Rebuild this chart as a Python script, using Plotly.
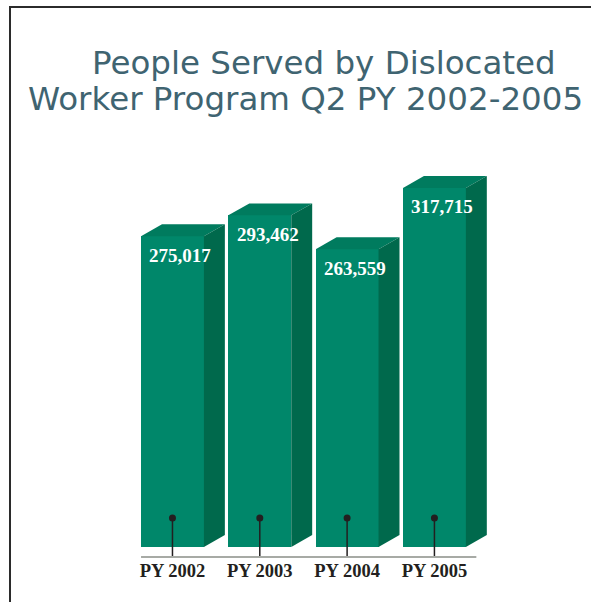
import plotly.graph_objects as go

# Chart data
categories = ["PY 2002", "PY 2003", "PY 2004", "PY 2005"]
people_served = [275017, 293462, 263559, 317715]
value_labels = ["275,017", "293,462", "263,559", "317,715"]

title_line1 = "People Served by Dislocated"
title_line2 = "Worker Program Q2 PY 2002-2005"

# Figure geometry (pixels)
FIG_W, FIG_H = 591, 602
PLOT_LEFT, PLOT_RIGHT = 100, 520
PLOT_TOP, PLOT_BOTTOM = 150, 557

# Axis ranges and pseudo-3D bar geometry (data units)
X_RANGE = [-0.83, 3.98]
Y_RANGE = [-8850, 351300]
BAR_W = 0.72        # front face width
DEPTH_X = 0.24      # horizontal depth offset
DEPTH_Y = 10600     # vertical depth offset
DOT_Y = 25700       # height of the category marker dot

FRONT = "#00876a"
TOP = "#007b5e"
SIDE = "#00694c"
INK = "#231f20"
TITLE_COLOR = "#3f6471"


def px_x(p):
    return p / FIG_W


def px_y(p):
    return 1 - p / FIG_H


xs = list(range(len(categories)))
fig = go.Figure()

# Front faces
fig.add_trace(go.Bar(
    x=xs, y=people_served, width=BAR_W,
    marker=dict(color=FRONT, line=dict(width=0)),
    hoverinfo="skip", showlegend=False,
))

# Top and side faces built from each bar's value
for x, v in zip(xs, people_served):
    l, r = x - BAR_W / 2, x + BAR_W / 2
    fig.add_trace(go.Scatter(
        x=[l, r, r + DEPTH_X, l + DEPTH_X, l],
        y=[v, v, v + DEPTH_Y, v + DEPTH_Y, v],
        fill="toself", fillcolor=TOP, mode="lines",
        line=dict(width=0, color=TOP), hoverinfo="skip", showlegend=False,
    ))
    fig.add_trace(go.Scatter(
        x=[r, r + DEPTH_X, r + DEPTH_X, r, r],
        y=[0, DEPTH_Y, v + DEPTH_Y, v, 0],
        fill="toself", fillcolor=SIDE, mode="lines",
        line=dict(width=0, color=SIDE), hoverinfo="skip", showlegend=False,
    ))

# Category dots with stems down to the baseline
fig.add_trace(go.Scatter(
    x=xs, y=[DOT_Y] * len(xs), mode="markers",
    marker=dict(color=INK, size=7),
    error_y=dict(type="data", symmetric=False, array=[0] * len(xs),
                 arrayminus=[DOT_Y - Y_RANGE[0]] * len(xs),
                 color=INK, thickness=1.5, width=0),
    hoverinfo="skip", showlegend=False, cliponaxis=False,
))

annotations = []
for x, v, t in zip(xs, people_served, value_labels):
    annotations.append(dict(
        x=x, y=v, xref="x", yref="y", text=f"<b>{t}</b>", showarrow=False,
        xshift=8, yshift=-19, xanchor="center", yanchor="middle",
        font=dict(family="Liberation Serif", size=19, color="white"),
    ))

annotations.append(dict(
    x=px_x(324), y=px_y(63), xref="paper", yref="paper", text=title_line1,
    showarrow=False, xanchor="center", yanchor="middle",
    font=dict(family="DejaVu Sans", size=32.5, color=TITLE_COLOR),
))
annotations.append(dict(
    x=px_x(305), y=px_y(99), xref="paper", yref="paper", text=title_line2,
    showarrow=False, xanchor="center", yanchor="middle",
    font=dict(family="DejaVu Sans", size=32.5, color=TITLE_COLOR),
))

shapes = [
    # baseline under the bars
    dict(type="line", xref="x", yref="paper",
         x0=-BAR_W / 2, x1=xs[-1] + BAR_W / 2 + DEPTH_X / 2,
         y0=px_y(PLOT_BOTTOM), y1=px_y(PLOT_BOTTOM),
         line=dict(color="#a7aaa5", width=2)),
    # page frame
    dict(type="rect", xref="paper", yref="paper",
         x0=px_x(10), x1=px_x(FIG_W + 20), y0=px_y(FIG_H + 20), y1=px_y(7),
         line=dict(color="#2b2b2b", width=2), fillcolor="rgba(0,0,0,0)"),
]

fig.update_layout(
    template="none",
    width=FIG_W, height=FIG_H,
    margin=dict(l=0, r=0, t=0, b=0),
    paper_bgcolor="white", plot_bgcolor="white",
    showlegend=False, bargap=0,
    xaxis=dict(
        domain=[px_x(PLOT_LEFT), px_x(PLOT_RIGHT)], range=X_RANGE,
        tickvals=xs, ticktext=[f"<b>{c}</b>" for c in categories],
        tickfont=dict(family="Liberation Serif", size=18.5, color=INK),
        showgrid=False, zeroline=False, showline=False, ticks="",
        automargin=False, fixedrange=True,
    ),
    yaxis=dict(
        domain=[px_y(PLOT_BOTTOM), px_y(PLOT_TOP)], range=Y_RANGE,
        visible=False, showgrid=False, zeroline=False,
        automargin=False, fixedrange=True,
    ),
    annotations=annotations,
    shapes=shapes,
)

fig.write_html("out.html")
